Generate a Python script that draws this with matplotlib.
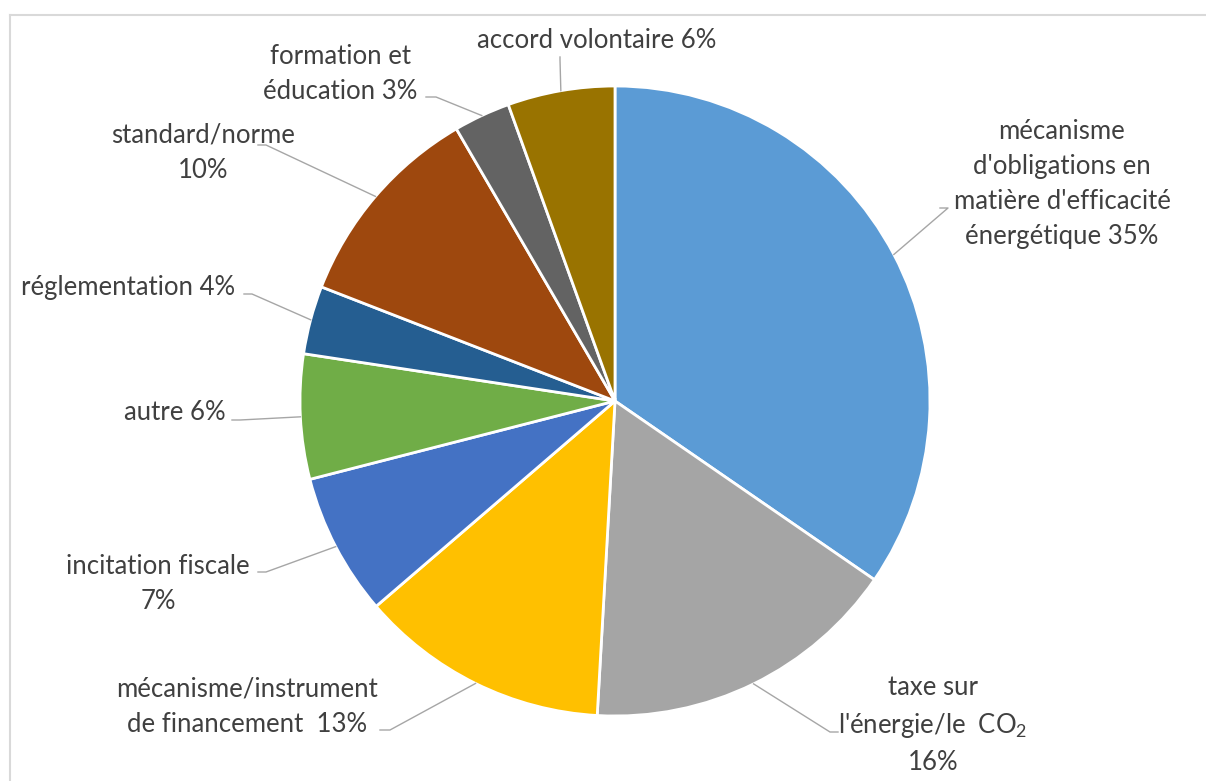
import numpy as np
import matplotlib.pyplot as plt

plt.rcParams['font.family'] = ['Lato', 'DejaVu Sans']

# slices, clockwise from 12 o'clock
labels = [
    "mécanisme\nd'obligations en\nmatière d'efficacité\nénergétique 35%",
    "taxe sur\nl'énergie/le  $\\mathregular{CO_2}$\n16%",
    "mécanisme/instrument\nde financement  13%",
    "incitation fiscale\n7%",
    "autre 6%",
    "réglementation 4%",
    "standard/norme\n10%",
    "formation et\néducation 3%",
    "accord volontaire 6%",
]
values = [34.6, 16.3, 12.8, 7.3, 6.4, 3.5, 10.7, 2.9, 5.5]
colors = ['#5B9BD5', '#A5A5A5', '#FFC000', '#4472C4', '#70AD47',
          '#255E91', '#9E480E', '#636363', '#997300']

W, H = 1206, 781
CX, CY, R = 615, 401, 315   # pixel coords, y from top

# label layout: text centre, point where the leader meets the text, elbow
text_pos = [(1062, 184), (933, 725), (247, 707), (158, 584), (175, 412),
            (128, 287), (203, 153), (340, 74), (597, 40)]
leader_end = [(940, 208), (838, 732), (380, 730), (258, 572), (232, 420),
              (244, 294), (258, 145), (426, 97), (560, 57)]
leader_elbow = [(948, 208), (830, 732), (390, 730), (266, 572), (240, 420),
                (252, 294), (266, 145), (436, 97), (560, 60)]


def fy(y):
    return H - y


fig = plt.figure(figsize=(W / 100, H / 100), dpi=100)
ax = fig.add_axes([0, 0, 1, 1])

wedges, _ = ax.pie(values, colors=colors, startangle=90, counterclock=False,
                   center=(CX, fy(CY)), radius=R,
                   wedgeprops=dict(edgecolor='white', linewidth=2))
ax.set_xlim(0, W)
ax.set_ylim(0, H)
ax.axis('off')

# chart frame (cut off at right and bottom)
ax.plot([10, W], [fy(15), fy(15)], color='#D9D9D9', lw=1.5)
ax.plot([10, 10], [fy(15), 0], color='#D9D9D9', lw=1.5)

for w, lab, tp, le, el in zip(wedges, labels, text_pos, leader_end, leader_elbow):
    mid = np.deg2rad((w.theta1 + w.theta2) / 2)
    ex = CX + R * np.cos(mid)
    ey = fy(CY) + R * np.sin(mid)
    ax.plot([ex, el[0], le[0]], [ey, fy(el[1]), fy(le[1])],
            color='#A6A6A6', lw=1)
    ax.text(tp[0], fy(tp[1]), lab, ha='center', va='center',
            fontsize=18.5, color='#404040', linespacing=1.5)

fig.savefig('out.png', dpi=100, facecolor='white')
